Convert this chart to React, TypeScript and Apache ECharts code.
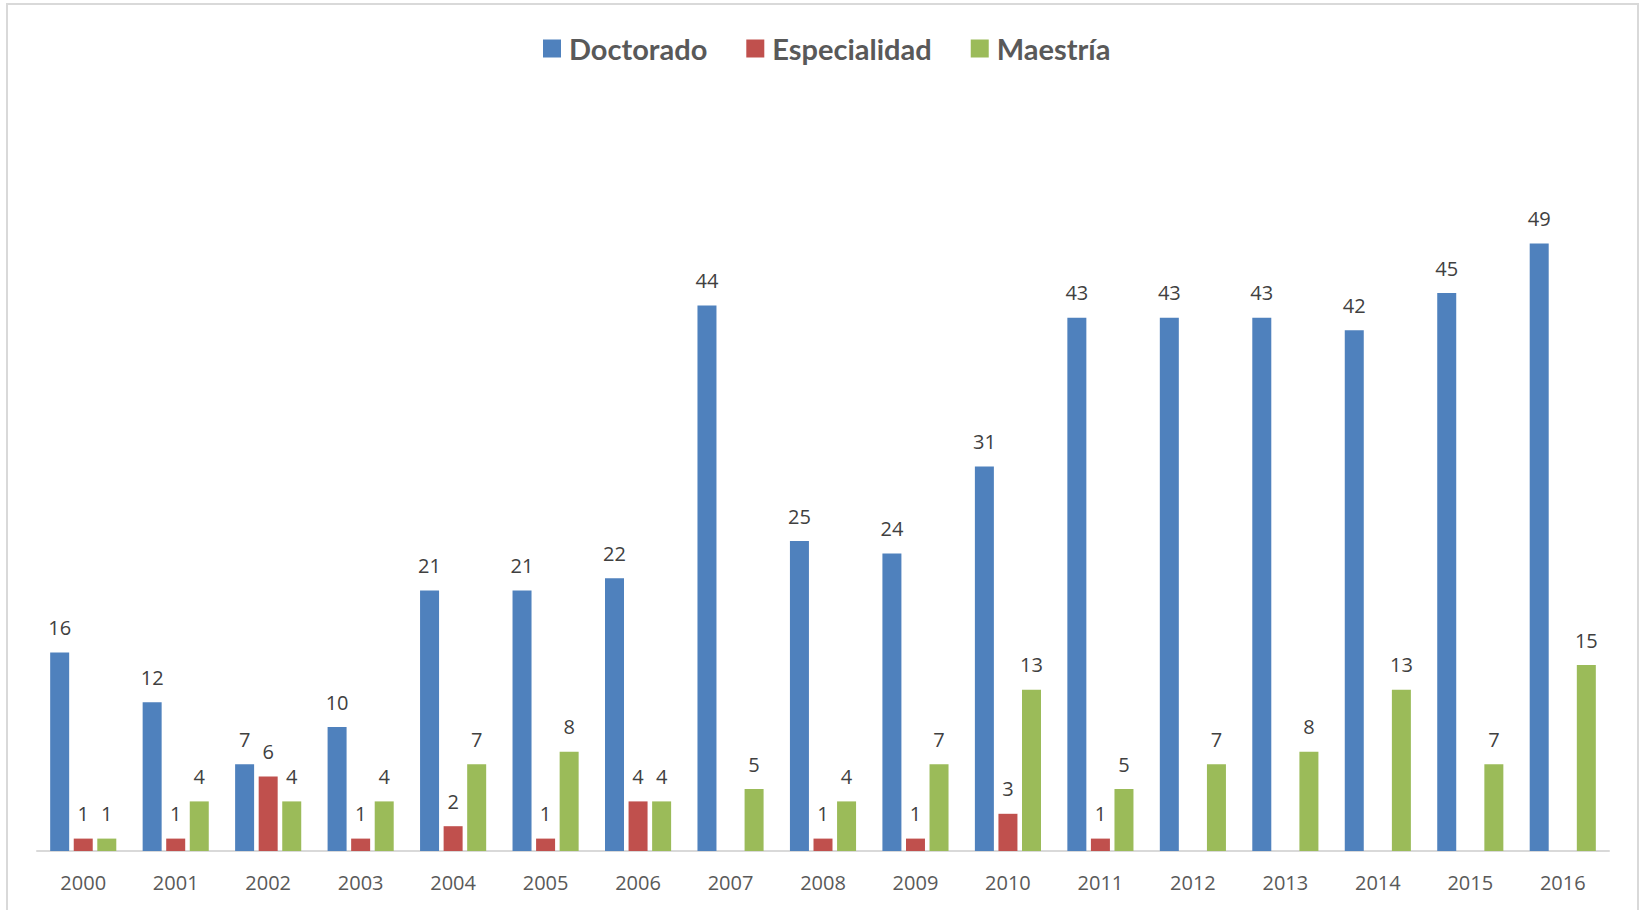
import React, { useEffect, useRef } from "react";
import * as echarts from "echarts";

const years = ["2000","2001","2002","2003","2004","2005","2006","2007","2008","2009","2010","2011","2012","2013","2014","2015","2016"];
const doctorado = [16,12,7,10,21,21,22,44,25,24,31,43,43,43,42,45,49];
const especialidad = [1,1,6,1,2,1,4,null,1,1,3,1,null,null,null,null,null];
const maestria = [1,4,4,4,7,8,4,5,4,7,13,5,7,8,13,7,15];

const seriesNames = ["Doctorado", "Especialidad", "Maestría"];
const colors = ["#4F81BD", "#C0504D", "#9BBB59"];

export default function App() {
  const ref = useRef<HTMLDivElement>(null);
  useEffect(() => {
    if (!ref.current) return;
    const chart = echarts.init(ref.current, null, { renderer: "svg" });
    const font = "'Open Sans', sans-serif";
    const label = {
      show: true,
      position: "top",
      distance: 15,
      color: "#404040",
      fontSize: 20,
      fontFamily: font,
    };
    const datasets = [doctorado, especialidad, maestria];
    chart.setOption({
      animation: false,
      backgroundColor: "#ffffff",
      color: colors,
      graphic: [
        {
          type: "rect",
          shape: { x: 7, y: 4, width: 1631, height: 910 },
          style: { fill: "none", stroke: "#d9d9d9", lineWidth: 2 },
          silent: true,
        },
      ],
      legend: {
        left: 538,
        top: 29,
        itemWidth: 18,
        itemHeight: 18,
        itemGap: 39,
        icon: "rect",
        data: seriesNames,
        textStyle: {
          fontFamily: "Lato, sans-serif",
          fontWeight: "bold",
          fontSize: 29,
          color: "#595959",
          padding: [0, 0, 0, 3],
        },
      },
      grid: { left: 37, right: 31, top: 107, bottom: 59 },
      xAxis: {
        type: "category",
        data: years,
        axisLine: { lineStyle: { color: "#d9d9d9", width: 2 } },
        axisTick: { show: false },
        axisLabel: { color: "#595959", fontSize: 20, fontFamily: font, margin: 21 },
      },
      yAxis: {
        type: "value",
        min: 0,
        max: 60,
        show: false,
        splitLine: { show: false },
      },
      series: seriesNames.map((name, i) => ({
        name,
        type: "bar",
        data: datasets[i],
        barWidth: 19,
        barGap: "24%",
        itemStyle: { color: colors[i] },
        label,
      })),
    });
    return () => chart.dispose();
  }, []);
  return (
    <div
      ref={ref}
      style={{ position: "fixed", left: 0, top: 0, width: 1640, height: 910 }}
    />
  );
}
